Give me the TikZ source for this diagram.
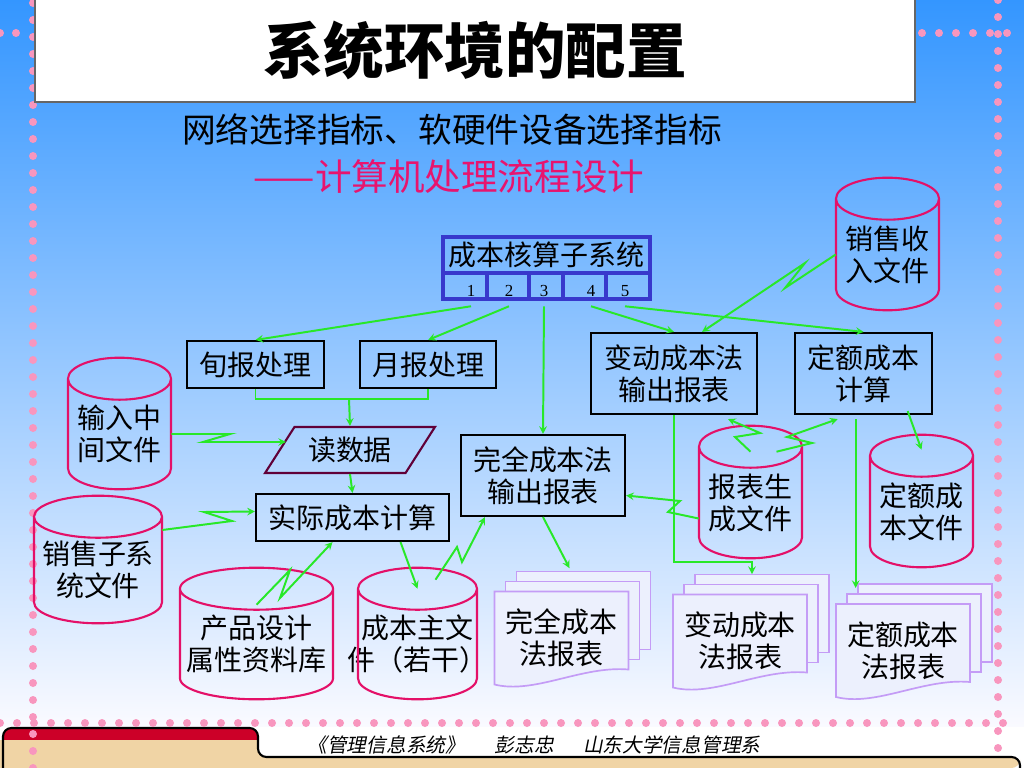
\documentclass[tikz,border=0pt]{standalone}
\usepackage{fontspec}
\setmainfont{Liberation Serif}
\newfontfamily\cjk{Noto Sans CJK SC}
\newfontfamily\cjkslant[FakeSlant=0.2]{Noto Sans CJK SC}
\usetikzlibrary{shapes.geometric, arrows, positioning}

\definecolor{skytop}{RGB}{52,150,255}
\definecolor{skybottom}{RGB}{250,250,255}
\definecolor{flowgreen}{RGB}{40,232,40}
\definecolor{storepink}{RGB}{228,16,104}
\definecolor{sheetlilac}{RGB}{196,156,246}
\definecolor{sheetfill}{RGB}{236,240,253}
\definecolor{acctblue}{RGB}{56,56,204}
\definecolor{readmaroon}{RGB}{96,0,56}
\definecolor{dotpink}{RGB}{248,150,190}
\definecolor{subpink}{RGB}{232,20,110}
\definecolor{footertan}{RGB}{240,212,165}
\definecolor{footerred}{RGB}{204,0,40}

\begin{document}
\begin{tikzpicture}[x=0.025cm, y=-0.025cm]
    \tikzstyle{cnfont} = [font=\cjk\fontsize{19.9}{22.8}\selectfont, align=center, text=black]
    \tikzstyle{titlebox} = [rectangle, draw=black!60, line width=1pt, fill=white, minimum width=22cm, minimum height=2.6cm, font=\cjk\bfseries\fontsize{43}{50}\selectfont]
    \tikzstyle{subline} = [font=\cjk\fontsize{24}{28}\selectfont, text=black]
    \tikzstyle{procbox} = [cnfont, rectangle, draw=black, line width=1.5pt]
    \tikzstyle{inputbox} = [cnfont, trapezium, trapezium left angle=55, trapezium right angle=125, trapezium stretches=true, minimum width=4.25cm, minimum height=1.15cm, draw=readmaroon, line width=1.5pt]
    \tikzstyle{store} = [cnfont, rectangle, inner sep=0pt, minimum height=2.75cm]
    \tikzstyle{storeline} = [draw=storepink, line width=1.5pt]
    \tikzstyle{report} = [cnfont, rectangle, inner sep=0pt, minimum width=3.35cm, minimum height=2.325cm]
    \tikzstyle{sheet} = [draw=sheetlilac, line width=1.2pt, fill=sheetfill]
    \tikzstyle{acctbox} = [rectangle, draw=acctblue, line width=2.2pt, minimum width=5.175cm, minimum height=1.55cm]
    \tikzstyle{numtext} = [font=\fontsize{12}{14}\selectfont, inner sep=1pt]
    \tikzstyle{footer} = [font=\cjkslant\fontsize{14}{16}\selectfont, text=black]
    \tikzstyle{arrow} = [flowgreen, line width=1.4pt, ->, >=stealth]
    \tikzstyle{link} = [flowgreen, line width=1.4pt]
    \tikzstyle{dot} = [fill=dotpink]

    % slide background and footer
    \useasboundingbox (0,0) rectangle (1024,768);
    \shade[top color=skytop, bottom color=skybottom] (0,0) rectangle (1024,727);
    \fill[white] (0,727) rectangle (1024,768);
    \fill[footerred, rounded corners=6] (3,745) -- (3,728) -- (258,728) -- (258,745) -- cycle;
    \fill[footertan] (0,740) -- (258,740) [rounded corners=6] -- (258,757) -- (1020,757) -- (1020,768) [sharp corners] -- (0,768) -- cycle;
    \draw[line width=1.5pt, rounded corners=6] (3,768) -- (3,728) -- (258,728) -- (258,757) -- (1020,757) -- (1020,768);
    \foreach \k in {0,...,45} \fill[dot] (33,{3+17*\k}) circle (0.1cm);
    \foreach \k in {0,...,44} \fill[dot] (998,{17*\k}) circle (0.1cm);
    \foreach \k in {0,...,59} \fill[dot] ({17*\k},723) circle (0.1cm);
    \foreach \x in {0,16,922,939,956,973,990,1007} \fill[dot] (\x,33) circle (0.1cm);

    \node[titlebox] (title) at (475,50) {系统环境的配置};
    \node[subline] (sub1) at (452,130) {网络选择指标、软硬件设备选择指标};
    \node[subline, text=subpink, font=\cjk\fontsize{26}{30}\selectfont] (sub2) at (449,177) {——计算机处理流程设计};

    % subsystem with its five cells
    \node[acctbox] (acct) at (546.5,268) {};
    \node[cnfont] (accttitle) at (546.5,255) {成本核算子系统};
    \draw[acctblue, line width=2.2pt] (443,273) -- (650,273);
    \foreach \x in {487,529,563,606} \draw[acctblue, line width=2.2pt] (\x,273) -- (\x,299);
    \foreach \i/\x in {1/471,2/509,3/544,4/591,5/625} \node[numtext] (n\i) at (\x,291) {\i};

    % processes
    \node[procbox, minimum width=3.425cm, minimum height=1.175cm] (xunbao) at (255.5,364.5) {旬报处理};
    \node[procbox, minimum width=3.4cm, minimum height=1.175cm, right=0.85cm of xunbao] (yuebao) {月报处理};
    \node[inputbox] (readdata) at (350,450) {读数据};
    \node[procbox, minimum width=4.825cm, minimum height=1.175cm] (actualcost) at (352.5,517.5) {实际成本计算};
    \node[procbox, minimum width=4.1cm, minimum height=2.025cm] (fullout) at (543,475.5) {完全成本法\\输出报表};
    \node[procbox, minimum width=4.15cm, minimum height=2.025cm] (varout) at (674,373.5) {变动成本法\\输出报表};
    \node[procbox, minimum width=3.425cm, minimum height=2.025cm, right=0.9cm of varout] (quotacalc) {定额成本\\计算};

    % files
    \node[store, minimum width=2.575cm] (inmid) at (119.5,434) {输入中\\间文件};
    \node[store, minimum width=3.2cm, minimum height=2.65cm] (salessub) at (98,570) {销售子系\\统文件};
    \node[store, minimum width=3.825cm] (product) at (256.5,644) {产品设计\\属性资料库};
    \node[store, minimum width=2.975cm] (costmain) at (417.5,644) {成本主文\\件（若干）};
    \node[store, minimum width=2.575cm, minimum height=2.775cm] (salesin) at (887.5,254.5) {销售收\\入文件};
    \node[store, minimum width=2.575cm, minimum height=2.775cm] (reportgen) at (750.5,502.5) {报表生\\成文件};
    \node[store, minimum width=2.575cm, minimum height=2.775cm] (quotafile) at (921.5,511.5) {定额成\\本文件};
    \foreach \n/\rx in {inmid/1.2875, salessub/1.6, product/1.9125, costmain/1.4875, salesin/1.2875, reportgen/1.2875, quotafile/1.2875}
        \draw[storeline] ([xshift=-\rx cm]\n.north) -- ([xshift=-\rx cm, yshift=0.525cm]\n.south) arc (180:360:\rx cm and 0.525cm) -- ([xshift=\rx cm]\n.north) arc (0:180:\rx cm and 0.525cm) arc (180:360:\rx cm and 0.525cm);

    % report stacks
    \foreach \cx/\cy in {561.5/638, 740/641, 903/650.5} {
        \draw[sheet] ({\cx-45},{\cy-66.5}) rectangle ({\cx+89},{\cy+11.5});
        \draw[sheet] ({\cx-56},{\cy-56.5}) rectangle ({\cx+78},{\cy+21.5});
        \draw[sheet] ({\cx-67},{\cy-46.5}) -- ({\cx+67},{\cy-46.5}) -- ({\cx+67},{\cy+31.5}) .. controls ({\cx+20},{\cy+27.5}) and ({\cx-27},{\cy+56.5}) .. ({\cx-67},{\cy+46.5}) -- cycle;
    }
    \node[report] (fullrep) at (561.5,638) {完全成本\\法报表};
    \node[report] (varrep) at (740,641) {变动成本\\法报表};
    \node[report] (quotarep) at (903,650.5) {定额成本\\法报表};

    % flows
    \draw[arrow] ([yshift=-0.2cm]n1.south) -- (xunbao.north);
    \draw[arrow] ([yshift=-0.2cm]n2.south) -- (yuebao.north);
    \draw[arrow] ([yshift=-0.2cm]n3.south) -- (fullout.north);
    \draw[arrow] ([yshift=-0.2cm]n4.south) -- (varout.north);
    \draw[arrow] ([yshift=-0.2cm]n5.south) -- (quotacalc.north);
    \coordinate (merge) at (349,399);
    \draw[link] (xunbao.south) |- (merge) -| (yuebao.south);
    \draw[arrow] (merge) -- (readdata.north);
    \draw[arrow] (readdata.south) -- (actualcost.north);
    \draw[arrow] (inmid.east) -- (230,434) -- (203,442) -- ([xshift=-1.6cm, yshift=0.2cm]readdata.center);
    \draw[arrow] ([yshift=1cm]salessub.east) -- (232,521) -- (204,512) -- ([yshift=0.15cm]actualcost.west);
    \draw[arrow] ([yshift=-0.4cm]product.north) -- (290,570) -- (280,598) -- ([xshift=-0.5cm]actualcost.south);
    \draw[arrow] ([xshift=1.2cm]actualcost.south) -- (costmain.north);
    \draw[arrow] ([xshift=0.45cm, yshift=0.225cm]costmain.north) -- (457,547) -- (462,562) -- ([xshift=-1.45cm]fullout.south);
    \draw[arrow] (fullout.south) -- ([xshift=0.2cm, yshift=0.575cm]fullrep.north);
    \draw[arrow] ([yshift=-0.4cm]reportgen.west) -- (668,512) -- (680,501) -- ([yshift=-0.5cm]fullout.east);
    \draw[arrow] (salesin.west) -- (785,288) -- (805,263) -- ([xshift=0.7cm]varout.north);
    \draw[arrow] (varout.south) |- ++(78,147) -- ++(0,12);
    \draw[arrow] ([xshift=-0.2cm, yshift=-0.1cm]quotacalc.south) -- ++(0,169);
    \draw[arrow] ([xshift=1.1cm, yshift=0.1cm]quotacalc.south) -- ([yshift=0.15cm]quotafile.north);
    \draw[arrow] ([yshift=-0.125cm]reportgen.north) -- (735,437) -- (760,433) -- ([xshift=1.35cm, yshift=-0.1cm]varout.south);
    \draw[arrow] ([xshift=0.65cm, yshift=-0.125cm]reportgen.north) -- (812,443) -- (787,437) -- ([xshift=-0.65cm, yshift=-0.1cm]quotacalc.south);

    \node[footer] (footnote) at (534,745) {《管理信息系统》\hspace{1.5em}彭志忠\hspace{1.5em}山东大学信息管理系};
\end{tikzpicture}
\end{document}
